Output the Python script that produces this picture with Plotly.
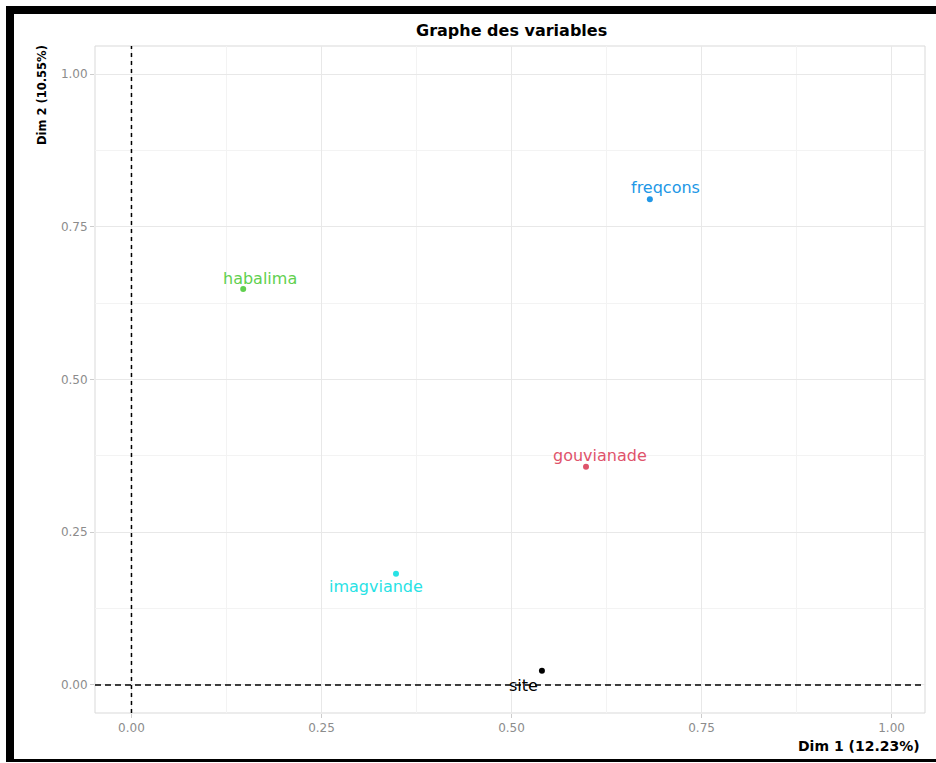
import plotly.graph_objects as go

# ---- data ----
variables = ["freqcons", "habalima", "gouvianade", "imagviande", "site"]
dim1 = [0.682, 0.147, 0.598, 0.348, 0.540]
dim2 = [0.795, 0.648, 0.357, 0.182, 0.023]
colors = ["#2297E6", "#61D04F", "#DF536B", "#28E2E5", "#000000"]
label_dx = [16, 17, 14, -20, -18]
label_dy = [12, 11, 11, -13, -15]
tick_vals = [0.0, 0.25, 0.5, 0.75, 1.0]
tick_text = ["0.00", "0.25", "0.50", "0.75", "1.00"]
title_text = "Graphe des variables"
xtitle = "Dim 1 (12.23%)"
ytitle = "Dim 2 (10.55%)"

W, H = 936, 763
L, R, T, B = 95, 925, 46, 713


def px(xp):
    return (xp - L) / (R - L)


def py(yp):
    return (B - yp) / (B - T)


fig = go.Figure()
fig.add_trace(go.Scatter(
    x=dim1, y=dim2, mode="markers",
    marker=dict(size=6, color=colors),
    hoverinfo="text", text=variables, showlegend=False,
))

FONT = "DejaVu Sans"
annotations = []
for name, xv, yv, c, dx, dy in zip(variables, dim1, dim2, colors, label_dx, label_dy):
    annotations.append(dict(
        x=xv, y=yv, xref="x", yref="y", text=name, showarrow=False,
        xshift=dx, yshift=dy, font=dict(family=FONT, size=16, color=c),
    ))

annotations.append(dict(
    x=px(512), y=py(30), xref="paper", yref="paper", text="<b>" + title_text + "</b>",
    showarrow=False, xanchor="center", yanchor="middle",
    font=dict(family=FONT, size=16, color="#000000"),
))
annotations.append(dict(
    x=px(922), y=py(746), xref="paper", yref="paper", text="<b>" + xtitle + "</b>",
    showarrow=False, xanchor="right", yanchor="middle",
    font=dict(family=FONT, size=14, color="#000000"),
))
annotations.append(dict(
    x=px(42), y=py(43), xref="paper", yref="paper", text="<b>" + ytitle + "</b>",
    showarrow=False, xanchor="center", yanchor="top", textangle=-90,
    font=dict(family=FONT, size=11.5, color="#000000"),
))

shapes = [
    # dashed reference lines
    dict(type="line", xref="x", yref="paper", x0=0, x1=0, y0=0, y1=1,
         line=dict(color="#000000", width=1.5, dash="4px,4px")),
    dict(type="line", xref="paper", yref="y", x0=0, x1=1, y0=0, y1=0,
         line=dict(color="#000000", width=1.5, dash="6px,4px")),
    # panel border
    dict(type="rect", xref="paper", yref="paper", x0=0, x1=1, y0=0, y1=1,
         line=dict(color="#d9d9d9", width=1), layer="below"),
    # black frame
    dict(type="rect", xref="paper", yref="paper", x0=px(6), x1=px(936), y0=py(6), y1=py(14),
         fillcolor="#000000", line=dict(width=0)),
    dict(type="rect", xref="paper", yref="paper", x0=px(6), x1=px(14), y0=py(6), y1=py(762),
         fillcolor="#000000", line=dict(width=0)),
    dict(type="rect", xref="paper", yref="paper", x0=px(6), x1=px(936), y0=py(759), y1=py(762),
         fillcolor="#000000", line=dict(width=0)),
]

axis_common = dict(
    tickvals=tick_vals, ticktext=tick_text,
    showgrid=True, gridcolor="#e8e8e8", gridwidth=1,
    zeroline=False, showline=False,
    ticks="outside", ticklen=4, tickcolor="#cccccc",
    tickfont=dict(family=FONT, size=12, color="#8c8c8c"),
    minor=dict(dtick=0.125, tick0=0, showgrid=True, gridcolor="#f3f3f3", ticks=""),
)

fig.update_layout(
    width=W, height=H,
    margin=dict(l=L, r=W - R, t=T, b=H - B, pad=0),
    paper_bgcolor="#ffffff", plot_bgcolor="#ffffff",
    xaxis=dict(range=[-0.048, 1.044], **axis_common),
    yaxis=dict(range=[-0.046, 1.046], **axis_common),
    annotations=annotations, shapes=shapes,
    font=dict(family=FONT),
)

fig.write_html(
    "out.html",
    config={"displayModeBar": False},
    post_script="document.body.style.margin='0';document.body.style.overflow='hidden';",
)
